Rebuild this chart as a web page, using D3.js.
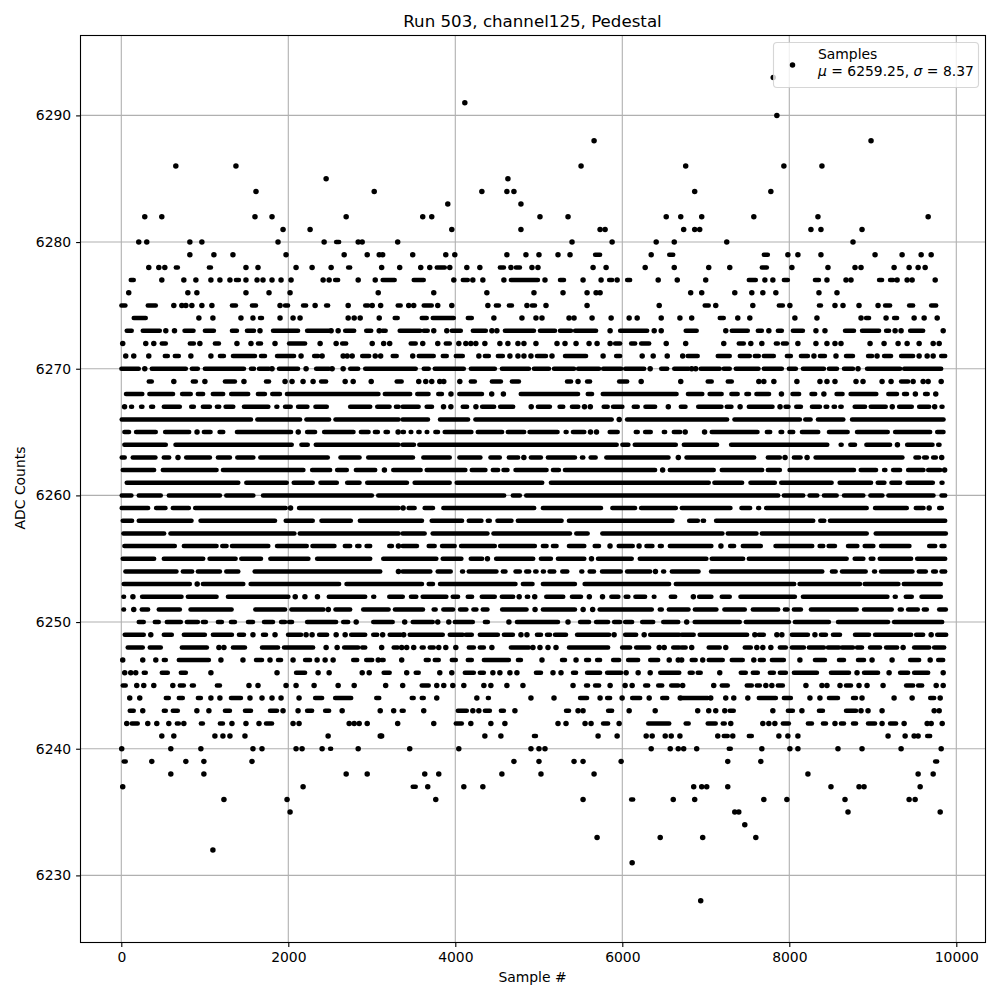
<!DOCTYPE html>
<html><head><meta charset="utf-8"><script src="https://cdn.jsdelivr.net/npm/d3@7"></script>
<style>html,body{margin:0;padding:0;background:#fff}svg{display:block}text{font-family:"DejaVu Sans",sans-serif;fill:#000}</style></head><body>
<svg id="c" width="1000" height="1000"></svg>
<script>
// Values. number = one visible marker; [a,b] = a run of merged markers from sample a to sample b.
const adc6293=[7808];
const adc6291=[4114];
const adc6290=[7851];
const adc6288=[5662,8979];
const adc6286=[653,1373,5506,6759,7935,8391];
const adc6285=[2453,4630];
const adc6284=[1613,3029,4318,4618,4702,6867,7779];
const adc6283=[3910,4786];
const adc6282=[281,485,1601,1805,2693,3610,3718,5014,5350,6526,6700,6951,7575,8343,9663];
const adc6281=[1937,2261,3958,4786,5734,5794,6735,6867,6927,8259,8379,8871];
const adc6280=[209,305,821,965,1877,2429,[2573,2609],2837,2885,3310,5398,5878,6406,6622,7251,8763];
const adc6279=[821,1109,1337,1973,2669,2945,3089,3130,3490,3886,3994,4618,4846,5002,5230,5374,[5674,5734],6346,[6562,6610],[7695,7743],7983,8103,8379,9027,9351,9579,9699];
const adc6278=[329,449,521,[653,677],[1049,1073],1493,1637,2093,2285,2513,[2717,2741],3118,3334,3586,3694,[3778,3874],3934,4138,4294,[4534,4582],4666,[4726,4774],4918,4990,5650,5806,6274,6622,7035,7287,[7671,7731],8031,8463,8787,8859,9255,9435,9543,9627];
const adc6277=[[113,149],485,749,893,1073,1181,1301,[1373,1409],1493,1625,1697,1805,1913,2033,2417,2489,[2561,2597],2837,3041,[3130,3274],[3502,3622],3982,[4090,4150],4210,4330,4582,[4666,4990],5074,[5254,5302],5530,5746,[5842,5878],5938,[6058,6094],6430,6658,6999,[7515,7599],7707,7803,[7935,7983],[8307,8355],8451,8679,8739,[9075,9111],[9207,9243],9291,9411,9471,9747];
const adc6276=[89,797,905,1493,1769,2021,3077,3742,4378,4942,5290,5578,5686,5734,6819,6951,7347,7551,7683,7839,8355,8571];
const adc6275=[[1,49],[317,413],629,725,773,845,965,1085,[1325,1373],[1565,1613],1901,[1961,1997],[2177,2213],2321,[2453,2477],2717,[2921,2957],3005,3106,[3310,3346],3442,3502,[3622,3718],3790,3958,4390,[4486,4522],[4642,4678],4858,[4918,4954],5086,5578,6442,[6987,7035],7119,7563,[7875,7923],8007,[8355,8379],8547,8643,8835,9063,[9147,9207],[9435,9483],[9699,9759]];
const adc6274=[[149,293],929,1097,1433,1577,[1661,1685],1901,2057,2141,2717,2789,2861,3089,[3274,3310],[3598,3658],[3730,3982],[4150,4198],4462,4798,4966,5038,5362,5422,5638,5866,6082,6178,6466,6690,6831,[7167,7215],7383,7527,8067,8331,8859,[8919,8955],9159,[9255,9291],9495,9615,9771];
const adc6273=[[65,125],[257,461],533,637,[757,865],[1001,1109],[1325,1385],[1505,1589],1661,[1817,2117],[2225,2489],2513,2597,[2681,2789],[2933,2993],3089,[3130,3166],[3334,3580],[3622,3670],3742,3898,[3958,4066],[4210,4366],4438,4498,[4594,4942],[5014,5194],[5254,5386],[5434,5686],5854,[5974,6298],6382,6466,[6759,6891],7239,[7311,7503],[7623,7671],7755,[7863,7911],[8043,8163],8319,8427,[8667,8775],[8871,9075],[9159,9195],9267,9339,[9447,9603],9843];
const adc6272=[17,293,389,[485,533],[821,869],941,[1121,1169],1385,1553,[1637,1673],1841,[2009,2201],2381,2573,[2645,2693],3005,3142,3214,[3466,3526],3610,3790,[3886,3934],4042,4126,4186,4246,4354,4534,4630,4750,4822,4966,5218,5314,5446,5602,5698,5854,[5914,5974],[6106,6154],[6226,6322],6526,6759,7215,[7395,7455],7539,7671,[7839,7863],[7923,7971],8103,8319,8451,8547,8619,8967,9135,9303,9411,9555,9723,9795];
const adc6271=[53,149,329,[521,557],[641,689],833,1073,[1181,1229],[1337,1601],[1673,1721],[1865,2069],2153,[2309,2357],2405,2657,2705,2765,[2885,2969],3041,3106,[3250,3298],3490,[3562,3742],[3850,3898],[4006,4090],4282,[4354,4402],[4510,4570],4654,4750,4822,4906,[4978,5086],5158,[5314,5566],5770,[5926,5974],6238,6370,6538,6723,[6783,6903],[7143,7287],[7407,7527],[7587,7635],[7695,7815],[7971,8019],[8139,8223],8295,[8367,8427],8559,[8679,8763],[8943,8991],9051,[9135,9219],[9339,9483],9555,9651,9723,[9819,9867]];
const adc6270=[[1,209],281,[365,773],[845,917],[1001,1469],[1553,1589],[1649,1769],1805,[1889,2117],2213,[2333,2489],2525,2657,[2741,2837],[2921,3526],[3622,3682],[3754,4102],[4186,4474],[4558,4882],[4942,5122],[5182,5422],[5470,5722],[5770,5986],[6034,6262],6334,[6466,6538],[6622,6795],6831,6879,[6939,7167],[7215,7287],[7359,7631],[7695,7911],[7995,8079],[8163,8415],[8475,8571],[8655,8763],8823,[8931,9327],[9375,9819]];
const adc6269=[[329,365],629,[857,893],1001,[1241,1361],1469,[1733,1769],1961,2045,2177,2297,[2393,2453],2681,2777,2993,[3298,3358],3562,3646,3718,3814,3862,4054,[4186,4234],[4438,4546],[4678,4762],[5338,5386],5470,[5578,5614],[5962,6058],6226,6700,[7023,7071],[7263,7311],7635,7695,7815,8091,8367,8451,8547,8799,8883,9111,9219,[9339,9423],9483,9603,9663,9819];
const adc6268=[[56,252],[336,620],[728,832],[916,980],[1096,1220],[1316,1520],[1636,1720],[1808,1900],[1984,3080],[3156,3460],[3544,3680],[3796,3840],3948,[4048,4320],4436,4576,[4784,5470],[5586,5638],[5766,6650],[6786,6958],[7046,7190],[7306,7382],[7486,7518],[7606,7758],7906,[8038,8118],[8266,8310],8414,[8566,8638],[8734,9042],[9186,9290],[9374,9410],9510,[9626,9658],9754];
const adc6267=[39,[117,129],[237,253],[357,381],[509,701],[837,869],[977,1061],[1145,1173],[1249,1341],[1469,1761],[1857,1869],[1961,2029],[2117,2229],[2325,2461],[2741,2981],[3065,3213],[3289,3321],[3369,3561],[3657,3721],3859,3947,[4089,4141],4247,[4321,4465],[4537,4693],4909,[4989,5133],[5249,5293],[5397,5473],5547,5617,[5777,5825],[5889,6001],[6137,6185],[6277,6393],6551,[6701,6757],[6909,7187],[7251,7307],7411,[7515,7799],7889,[7955,7991],[8083,8139],[8271,8367],[8435,8455],[8531,8547],[8611,8627],[8783,8907],[8975,9155],9233,[9315,9467],[9555,9675],9741,[9823,9835]];
const adc6266=[[5,1553],[1629,2141],[2217,2489],[2565,3321],[3369,3673],[3817,4153],[4241,5873],5963,[6057,7255],[7343,8127],[8191,8255],[8343,8647],[8751,9847]];
const adc6265=[[37,93],[177,413],[525,813],907,[989,1069],[1177,1221],[1385,2033],2119,[2225,2321],[2429,2781],[2869,2961],[3037,3073],[3165,3193],3315,[3369,3385],[3465,3473],[3557,3573],[3657,3665],[3761,3793],[3873,4193],[4269,4561],[4629,4825],[4889,5225],[5321,5333],[5409,5545],5619,5691,[5849,5945],[6161,6185],[6273,6341],[6497,6513],[6617,6693],6753,6985,[7071,7619],[7731,7771],[7895,7915],[8003,8047],[8151,8347],[8475,8699],[8811,9179],[9267,9687],[9771,9847]];
const adc6264=[[37,533],[649,2041],[2157,2233],[2329,3321],[3369,3505],[3569,5933],[6001,6073],[6149,6641],[6737,7135],[7303,8455],[8615,8627],[8731,8787],[8923,9207],9295,[9411,9715],[9783,9799]];
const adc6263=[[5,41],[137,409],[509,573],679,[777,1061],[1157,1301],[1389,1581],[1665,2473],[2625,2853],[2957,3493],[3617,3933],[4049,4301],[4421,4533],[4641,4753],4821,[4905,5025],[5109,5433],[5517,5533],[5621,5681],[5809,6553],6671,[6769,7579],[7743,7887],7949,[8055,8135],8213,[8315,9355],[9511,9555],[9615,9647],[9723,9755],9825];
const adc6262=[[17,393],[497,1141],[1217,2181],[2285,2501],[2585,2701],[2809,3041],3151,[3257,3585],[3657,4121],[4197,4361],[4449,4513],[4577,4625],[4721,5093],[5169,5241],[5313,6393],6483,[6569,7095],[7191,7675],[7743,7887],[8003,8775],[8855,9039],[9135,9151],[9243,9327],[9423,9607],[9663,9807],9860];
const adc6261=[[65,1401],[1497,1981],[2065,2293],[2385,2581],[2705,2853],[2945,3421],[3513,3933],[4017,5041],[5145,7035],[7103,7435],[7535,7827],[7903,8507],[8603,8979],[9059,9139],[9223,9327],[9415,9719],[9823,9835]];
const adc6260=[[5,121],[209,473],[569,1181],[1257,1581],[1697,3001],[3077,4585],[4689,4773],[4849,7867],[7935,8167],[8243,8335],[8415,8567],[8655,8887],[8971,9115],[9187,9727],[9823,9867]];
const adc6259=[[5,321],[417,529],[617,809],[885,1969],2027,[2129,3321],3375,[3441,3513],[3633,3733],[3857,4945],[5049,5745],[5881,6153],[6225,6641],[6713,7295],[7427,7531],[7627,7639],[7723,8927],[9027,9407],[9515,9607],9675,[9795,9827]];
const adc6258=[[17,129],[209,841],[949,1841],[1969,2293],[2397,2749],[2857,3601],[3717,4081],[4161,4313],[4389,4413],[4505,4673],[4749,5273],[5361,6601],[6801,6905],[6963,6979],[7123,8287],[8371,8419],[8487,9867]];
const adc6257=[[25,513],[589,2073],[2137,3321],[3369,3633],[3729,4385],[4457,5373],[5449,5585],[5761,7199],[7263,7607],[7671,8927],[9035,9875]];
const adc6256=[[37,641],[749,1141],[1209,1261],[1325,1761],[1865,2221],[2289,2553],[2677,2741],[2825,2853],[2937,2981],[3209,3241],3319,[3369,3541],[3681,3753],[3841,3993],[4069,4473],[4537,4953],[5049,5093],[5169,5213],[5361,5545],[5669,5721],5853,[5957,6125],6201,[6289,6361],[6449,6473],[6569,7067],7181,[7291,7339],[7443,7659],[7835,8275],[8363,8407],[8471,8547],[8703,8815],[8903,9007],[9099,9439],[9675,9747],[9823,9859]];
const adc6255=[[17,393],[509,981],[1057,1369],[1437,1673],[1785,2241],[2345,2981],[3137,3773],[3849,4073],[4185,4321],4385,[4489,4933],[5025,5145],[5229,5545],5631,[5709,6113],[6209,7007],[7071,7447],[7515,8687],[8783,8887],[8975,9007],[9083,9459],[9531,9867]];
const adc6254=[[49,661],[737,849],[917,1181],[1257,1401],[1597,3101],3319,[3369,3701],[3789,3945],[4081,4093],[4161,4493],[4569,4601],[4721,4773],[4849,4885],[4957,4973],[5049,5061],[5129,5185],[5281,5341],[5509,5521],[5609,5661],[5757,5981],[6057,6333],6397,[6489,6501],[6593,6913],[7063,8395],[8511,8555],[8631,8915],[9015,9027],[9099,9475],[9551,9635],[9723,9755],[9823,9867]];
const adc6253=[[29,821],909,[977,1461],[1549,2609],[2697,3601],[3681,3733],[3817,4721],[4809,4925],[5049,5433],[5549,6561],[6641,8059],[8123,8847],[8903,9307],[9371,9815]];
const adc6252=[[25,33],139,[249,721],[797,1141],[1277,2001],2083,2199,2349,[2485,2921],[3017,3029],[3209,3371],[3469,3533],[3609,3893],[3969,4033],[4149,4201],[4317,4473],[4557,4693],4765,[4857,4873],4951,[5089,5293],[5397,5505],5605,5763,[5869,5953],[6041,6073],[6157,6273],[6377,6385],[6581,6633],6851,[6920,7067],[7191,7287],[7415,8067],[8163,9175],[9263,9275],[9395,9467],[9583,9815]];
const adc6251=[[25,33],149,[245,321],[449,701],[829,1321],[1605,1961],[2037,2421],2479,[2565,2741],[2897,3201],[3277,3613],[3741,3765],[3857,3973],[4057,4133],[4217,4253],[4329,4385],[4561,4853],4955,[5049,5433],5531,5645,[5729,6353],[6449,6473],[6557,6793],[6869,7127],[7223,7467],[7563,7867],[7947,7979],[8055,8139],[8259,8807],[8895,9227],[9323,9347],[9423,9539],[9611,9647],[9795,9875]];
const adc6250=[[209,269],[401,449],[545,713],[785,917],[977,1013],[1157,1205],[1313,1361],[1517,1577],[1709,1817],[1913,1961],[2009,2045],[2225,2573],[2657,2717],2813,[3017,3250],3394,[3490,3730],3790,3922,[3994,4210],[4354,4390],4642,[4738,5230],5350,[5494,5602],[5686,5830],[5902,5974],[6034,6118],[6238,6370],[6490,6670],6771,[6867,7407],[7479,7995],[8067,8475],[8583,9183],[9255,9831]];
const adc6249=[[41,269],353,[509,605],[749,1001],[1097,1325],[1409,1469],1577,[1697,1733],1841,[1997,2153],2213,2285,[2369,2465],2573,2681,[2753,2921],[3017,3065],3130,[3214,3346],3382,[3454,3850],[3934,4090],[4126,4198],[4294,4510],[4582,4690],4786,4858,[4978,5026],[5098,5134],[5194,5326],[5458,5842],5902,[6034,6166],6262,[6334,6682],[6711,6855],[6927,7495],7587,[7635,7695],7851,7911,[8031,8223],8307,[8379,8439],[8523,8607],[8787,8955],[9027,9459],[9519,9603],9699,[9771,9879]];
const adc6248=[[77,257],[341,473],[725,1025],1169,1229,[1337,1481],[1685,1877],[1949,2297],2453,2585,[2669,2837],[2885,2921],3118,[3262,3310],3358,3418,3502,[3598,3622],[3694,3742],3802,3886,4006,[4162,4222],[4294,4342],4438,[4666,4882],4930,5014,5110,5206,[5362,5830],[5998,6094],[6166,6322],6442,6502,[6610,6682],[6711,6759],6831,[7035,7167],7239,[7467,7539],7611,7683,7779,[7887,7959],[8031,8175],[8235,8415],[8463,8595],[8631,8763],[8811,8871],[8967,9087],[9159,9291],9363,[9495,9675],[9735,9855]];
const adc6247=[17,257,413,[509,533],[689,1049],1193,1457,[1613,1685],1781,[1877,1913],2057,[2201,2261],2345,2441,2537,[2777,2825],[2933,3005],3077,[3118,3142],3358,[3646,3682],[3754,3802],[3958,4006],[4150,4198],[4342,4642],[4750,4786],5038,[5278,5314],5446,[5566,5602],[5698,5734],[5890,5962],[6070,6190],[6334,6430],6562,6670,6711,[6831,6879],6963,[7035,7203],[7311,7443],7575,[7647,7695],[7791,7935],8127,[8307,8427],[8595,8655],[8823,8895],8991,9231,[9447,9555],9687,[9783,9843]];
const adc6246=[41,113,173,[269,293],[485,557],[713,773],1073,1865,[2093,2201],2357,2489,2885,2969,[3142,3214],3418,[3526,3562],3814,3958,[4114,4222],[4294,4342],4450,4534,4654,4738,[4966,5026],5170,5266,[5410,5446],[5578,5734],[5818,5986],6046,6190,6334,[6454,6682],[6807,6843],[6903,6939],7167,[7419,7479],[7563,7623],[7767,7815],[7887,7959],[8055,8331],[8499,8715],8811,[8895,9063],9195,[9327,9423],[9495,9663],9843];
const adc6245=[[17,53],185,269,389,617,[701,749],[845,869],[1145,1181],1529,1637,1973,2093,2309,2597,2789,3166,3370,[3598,3682],3778,3862,3970,4102,4342,4426,4618,4810,5410,[5566,5590],[5674,5722],5854,6034,6118,[6274,6310],[6430,6478],[6586,6670],6723,7095,[7191,7263],[7491,7551],[7611,7647],7719,7791,[7863,7923],8199,8391,8451,8607,[8679,8739],8835,8931,9123,[9399,9483],[9543,9591],9759,9843];
const adc6244=[101,221,[533,569],[689,737],[917,953],1073,1181,[1313,1433],1541,1685,1805,1913,2129,[2321,2405],[2561,2753],[3053,3089],[3478,3502],[3598,3622],3778,4258,[4390,4402],4906,5182,[5494,5578],5734,[5818,5854],5998,[6118,6214],6322,[6478,6538],6694,[6711,7023],7059,7239,7335,7503,[7635,7839],[7935,8019],8247,8367,[8475,8583],[8763,8799],8871,9255,9471,[9687,9735],9807];
const adc6243=[[101,149],257,[509,533],[617,677],905,1049,[1241,1301],[1481,1553],[1781,1865],1937,2117,[2225,2285],[2441,2489],2645,3101,3262,[3358,3382],3622,[4030,4138],4210,4282,[4354,4414],[4546,4582],4714,[5326,5362],5470,5530,[5830,5878],6082,6394,6903,7035,7119,7227,[7287,7335],7803,[7983,8043],8151,[8355,8403],[8679,8799],8859,8943,9111,9735,9795];
const adc6242=[65,[125,197],317,425,569,[665,689],749,[953,977],[1181,1217],1325,1493,1649,[1733,1805],2057,2129,2729,2789,2849,2945,3310,3742,[4006,4078],4186,4426,4594,5230,5326,5554,5626,[5770,5830],5962,[6310,6562],[6759,6795],[7023,7119],[7203,7227],7299,7683,7755,7827,[7923,7995],[8223,8271],[8403,8439],8547,[8619,8655],[8763,8799],[8943,9027],9111,[9207,9279],9375,9651,9699,9831];
const adc6241=[485,629,1121,1217,1301,1481,2477,3101,3118,4354,4546,[4942,4966],5710,5938,6286,6358,6514,6586,6690,7143,[7215,7263],7323,[7515,7551],7875,7983,8103,9183,9387,9495,9543,[9651,9687]];
const adc6240=[5,593,953,1577,1685,2093,2165,2405,[2501,2513],2837,3454,4042,4906,5002,5074,6346,6574,6670,6735,6891,[7275,7299],7671,8007,8103,8583,8871,9339,9819];
const adc6239=[[29,53],365,773,989,1565,4702,5002,5422,5530,5986,7263,7659,[9747,9771]];
const adc6238=[593,989,2693,2945,3634,3802,4558,5026,5662,8223,9543,9723];
const adc6237=[17,2177,[3490,3526],3670,4102,4330,6855,6951,7011,7263,8499,8835,8895,9567];
const adc6236=[1229,1985,3766,5530,[6106,6130],6610,6867,7695,7971,8667,9435,9507];
const adc6235=[2021,7347,7395,8703,9807];
const adc6234=[7467];
const adc6233=[5698,6454,6963,7599];
const adc6232=[1097];
const adc6231=[6118];
const adc6228=[6939];
const levelValues=[6228,6231,6232,6233,6234,6235,6236,6237,6238,6239,6240,6241,6242,6243,6244,6245,6246,6247,6248,6249,6250,6251,6252,6253,6254,6255,6256,6257,6258,6259,6260,6261,6262,6263,6264,6265,6266,6267,6268,6269,6270,6271,6272,6273,6274,6275,6276,6277,6278,6279,6280,6281,6282,6283,6284,6285,6286,6288,6290,6291,6293];
const levelSamples=[adc6228,adc6231,adc6232,adc6233,adc6234,adc6235,adc6236,adc6237,adc6238,adc6239,adc6240,adc6241,adc6242,adc6243,adc6244,adc6245,adc6246,adc6247,adc6248,adc6249,adc6250,adc6251,adc6252,adc6253,adc6254,adc6255,adc6256,adc6257,adc6258,adc6259,adc6260,adc6261,adc6262,adc6263,adc6264,adc6265,adc6266,adc6267,adc6268,adc6269,adc6270,adc6271,adc6272,adc6273,adc6274,adc6275,adc6276,adc6277,adc6278,adc6279,adc6280,adc6281,adc6282,adc6283,adc6284,adc6285,adc6286,adc6288,adc6290,adc6291,adc6293];
const xTicks=[0,2000,4000,6000,8000,10000];
const yTicks=[6230,6240,6250,6260,6270,6280,6290];
const titleText="Run 503, channel125, Pedestal", xLabel="Sample #", yLabel="ADC Counts";
const legendName="Samples", muValue="6259.25", sigmaValue="8.37";

const L=81,R=985,T=36,B=942;
const x=d3.scaleLinear().domain([0,10000]).range([121.3,956.3]);
const y=d3.scaleLinear().domain([6230,6290]).range([875.4,115.4]);
const svg=d3.select("#c");
// grid
const grid=svg.append("g").attr("stroke","#b0b0b0").attr("stroke-width",1.1);
grid.selectAll("line.gx").data(xTicks).join("line").attr("x1",d=>x(d)).attr("x2",d=>x(d)).attr("y1",T).attr("y2",B);
grid.selectAll("line.gy").data(yTicks).join("line").attr("y1",d=>y(d)).attr("y2",d=>y(d)).attr("x1",L).attr("x2",R);
// marks
const R0=2.75, runWidth=4.5;
const pts=svg.append("g").attr("fill","#000").attr("stroke","#000").attr("stroke-linecap","round");
levelValues.forEach((v,i)=>{
  const entries=levelSamples[i];
  const singles=entries.filter(e=>typeof e==="number"), runs=entries.filter(e=>typeof e!=="number");
  pts.append("g").attr("stroke","none").selectAll("circle").data(singles).join("circle")
    .attr("cx",d=>x(d)).attr("cy",y(v)).attr("r",R0);
  pts.append("g").attr("stroke-width",runWidth).selectAll("line").data(runs).join("line")
    .attr("x1",d=>x(d[0])).attr("x2",d=>x(d[1])).attr("y1",y(v)).attr("y2",y(v));
});
// axes
const xa=svg.append("g").attr("transform",`translate(0,${B})`).call(d3.axisBottom(x).tickValues(xTicks).tickFormat(d3.format("d")).tickSize(4.9).tickPadding(4.9));
const ya=svg.append("g").attr("transform",`translate(${L},0)`).call(d3.axisLeft(y).tickValues(yTicks).tickFormat(d3.format("d")).tickSize(4.9).tickPadding(4.9));
[xa,ya].forEach(a=>{a.select(".domain").remove();a.selectAll("line").attr("stroke","#000").attr("stroke-width",1.1);a.selectAll("text").attr("font-size",13.9).attr("font-family",'"DejaVu Sans"').attr("fill","#000");});
svg.append("rect").attr("x",L-.5).attr("y",T-.5).attr("width",R-L+1).attr("height",B-T+1).attr("fill","none").attr("stroke","#000").attr("stroke-width",1.1);
// text
svg.append("text").attr("x",532.5).attr("y",27).attr("text-anchor","middle").attr("font-size",16.67).text(titleText);
svg.append("text").attr("x",532.5).attr("y",982).attr("text-anchor","middle").attr("font-size",13.9).text(xLabel);
svg.append("text").attr("transform","translate(25,488) rotate(-90)").attr("text-anchor","middle").attr("font-size",13.9).text(yLabel);
// legend
const lg=svg.append("g");
lg.append("rect").attr("x",773.5).attr("y",42.5).attr("width",205).attr("height",45).attr("rx",3.5).attr("fill","#fff").attr("fill-opacity",.8).attr("stroke","#ccc").attr("stroke-opacity",.8).attr("stroke-width",1.1);
lg.append("circle").attr("cx",792.5).attr("cy",65).attr("r",R0).attr("fill","#000");
lg.append("text").attr("x",818).attr("y",59).attr("font-size",13.9).text(legendName);
const t2=lg.append("text").attr("x",818).attr("y",76).attr("font-size",13.9);
t2.append("tspan").attr("font-style","italic").text("μ");
t2.append("tspan").text(` = ${muValue}, `);
t2.append("tspan").attr("font-style","italic").text("σ");
t2.append("tspan").text(` = ${sigmaValue}`);
</script></body></html>
